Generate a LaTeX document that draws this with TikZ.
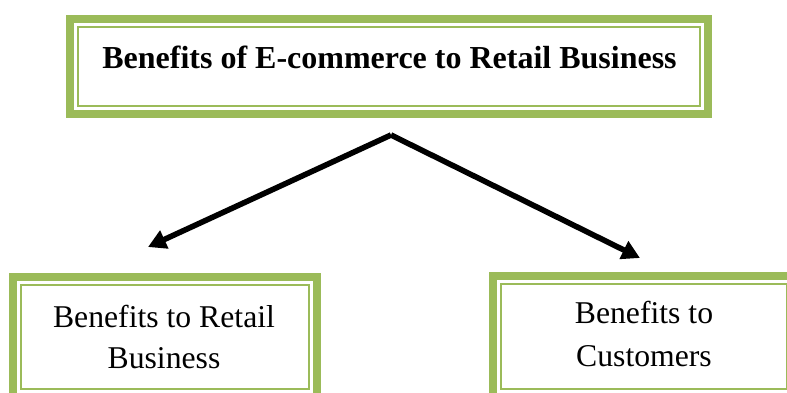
\documentclass[tikz,border=0pt]{standalone}
\usepackage{fontspec}
\setmainfont{Liberation Serif}
\usetikzlibrary{arrows.meta}
\definecolor{leaf}{HTML}{9BBB59}
\begin{document}
\begin{tikzpicture}[x=1pt,y=1pt,
  % thick green frame with a thin green rule just inside it
  framed/.style={draw=leaf, line width=8pt, inner sep=0pt,
    path picture={\draw[leaf, line width=2.4pt]
      ([shift={(8pt,8pt)}]path picture bounding box.south west) rectangle
      ([shift={(-8pt,-8pt)}]path picture bounding box.north east);}},
  heading/.style={font=\fontsize{32}{38}\selectfont\bfseries, anchor=base, inner sep=0pt},
  body/.style={font=\fontsize{31.7}{38}\selectfont, anchor=base, inner sep=0pt},
  link/.style={line width=5.6pt, -{Triangle[length=18pt,width=19pt]}}]
\useasboundingbox (0,0) rectangle (787,392);
\clip (0,0) rectangle (787,392);

% boxes
\node[framed, minimum width=638pt, minimum height=95pt] (top) at (389,325.5) {};
\node[framed, minimum width=304pt, minimum height=120pt] (left) at (165,55) {};
\node[framed, minimum width=302pt, minimum height=121pt] (right) at (644,55.5) {};

% texts
\node[heading] (ttl) at (389.5,324) {Benefits of E-commerce to Retail Business};
\node[body] (l1) at (164,65) {Benefits to Retail};
\node[body] (l2) at (164,24) {Business};
\node[body] (r1) at (644,69) {Benefits to};
\node[body] (r2) at (644,26) {Customers};

% connectors
\coordinate (apex) at (391,257);
\coordinate (ltip) at (148,145);
\coordinate (rtip) at (640,134);
\draw[link] (apex) -- (ltip);
\draw[link] (apex) -- (rtip);
\end{tikzpicture}
\end{document}
